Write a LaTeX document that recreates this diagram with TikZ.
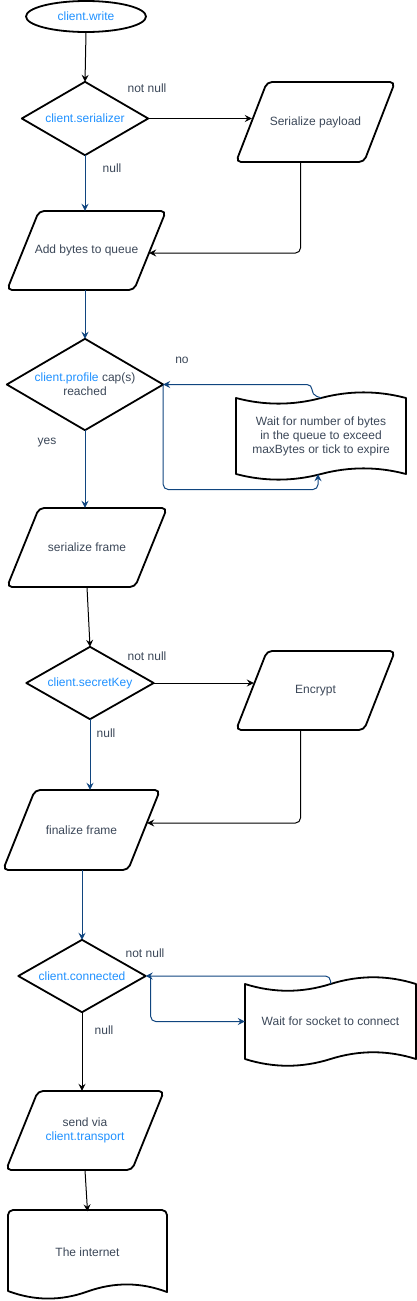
\documentclass[tikz,border=0pt]{standalone}
\usepackage{fontspec}
\setmainfont{Liberation Sans}
\usetikzlibrary{shapes.geometric,arrows.meta,calc}
\definecolor{txt}{HTML}{3B4758}
\definecolor{hl}{HTML}{1E90FF}
\definecolor{bl}{HTML}{10457F}
\newcommand\myfs{\fontsize{12}{14}\selectfont}
\newcommand\hlt[1]{\textcolor{hl}{#1}}
\newcommand\mypara[5]{\draw[shp] ({#1+#5},#2) -- (#3,#2) -- ({#3-#5},#4) -- (#1,#4) -- cycle;}
\newcommand\mydia[1]{\draw[shp,sharp corners] (#1.north) -- (#1.east) -- (#1.south) -- (#1.west) -- cycle;}
\newcommand\mytape[5]{%
\draw[shp,sharp corners] (#1,#2) .. controls ({#1+(#3-#1)/6},{#2+1.5*#5}) and ({#1+(#3-#1)/3},{#2+1.5*#5}) .. ({(#1+#3)/2},#2)
 .. controls ({#1+2*(#3-#1)/3},{#2-1.5*#5}) and ({#1+5*(#3-#1)/6},{#2-1.5*#5}) .. (#3,#2)
 -- (#3,#4) .. controls ({#1+5*(#3-#1)/6},{#4-1.5*#5}) and ({#1+2*(#3-#1)/3},{#4-1.5*#5}) .. ({(#1+#3)/2},#4)
 .. controls ({#1+(#3-#1)/3},{#4+1.5*#5}) and ({#1+(#3-#1)/6},{#4+1.5*#5}) .. (#1,#4) -- cycle;}
\tikzset{
 lbl/.style={text=txt,font=\myfs,inner sep=0},
 bx/.style 2 args={minimum width=#1,minimum height=#2,inner sep=0,align=center,text=txt,font=\myfs},
 shp/.style={draw,line width=1.8,rounded corners=5,line join=round},
 conn/.style={line width=1,-{Stealth[length=7pt,width=7pt,inset=2.5pt]}},
 blk/.style={conn,black},
 blu/.style={conn,bl},
}
\begin{document}
\begin{tikzpicture}[x=1pt,y=-1pt]
\useasboundingbox (0,0) rectangle (417,1301);
% shapes
\node[ellipse,draw,line width=1.8,minimum width=120,minimum height=31,inner sep=0,font=\myfs,text=hl] (cw) at (86,16.5) {client.write};
\node[bx={126}{73},text=hl] (cs) at (85,118.5) {client.serializer};
\mydia{cs}
\mypara{236}{82}{395}{162}{31}
\node[bx={159}{80}] (sp) at (315.5,122) {Serialize payload};
\mypara{7}{211}{166}{290}{32}
\node[bx={159}{79}] (ab) at (86.5,250.5) {Add bytes to queue};
\node[bx={156}{91}] (pr) at (85,384.5) {\hlt{client.profile} cap(s)\\reached};
\mydia{pr}
\mytape{236}{398}{406}{474}{5}
\node[bx={170}{76}] (wb) at (321,436) {Wait for number of bytes\\in the queue to exceed\\maxBytes or tick to expire};
\mypara{7}{508}{167}{587}{32}
\node[bx={160}{79}] (sf) at (87,547.5) {serialize frame};
\node[bx={127}{72},text=hl] (sk) at (90,683) {client.secretKey};
\mydia{sk}
\mypara{236}{651}{395}{730}{31}
\node[bx={159}{79}] (en) at (315.5,690.5) {Encrypt};
\mypara{3}{790}{160}{870}{32}
\node[bx={157}{80}] (ff) at (81.5,830) {finalize frame};
\node[bx={127}{72},text=hl] (cc) at (82,976) {client.connected};
\mydia{cc}
\mytape{245}{984}{416}{1059}{6}
\node[bx={171}{75}] (ws) at (330.5,1021.5) {Wait for socket to connect};
\mypara{6}{1091}{164}{1170}{32}
\node[bx={158}{79}] (sv) at (85,1130.5) {send via\\\hlt{client.transport}};
\draw[shp,sharp corners] (8,1250) [rounded corners=5] -- (8,1210) -- (167,1210) [sharp corners] -- (167,1292)
 .. controls (140.5,1282) and (114,1282) .. (87.5,1291.5)
 .. controls (61,1301) and (34.5,1301) .. (8,1291) -- cycle;
\node[bx={159}{81}] (in) at (87.5,1252) {The internet};
% labels
\node[lbl] (l1) at (147,88) {not null};
\node[lbl] (l2) at (112,168) {null};
\node[lbl] (l3) at (182,360) {no};
\node[lbl] (l4) at (47,443) {yes};
\node[lbl] (l5) at (147,656) {not null};
\node[lbl] (l6) at (106,733) {null};
\node[lbl] (l7) at (145,953) {not null};
\node[lbl] (l8) at (104,1030) {null};
% connectors
\draw[blk] (cw.south) -- (cs.north);
\draw[blk] (cs.east) -- ([xshift=16]cs.east -| sp.west);
\draw[blu] (cs.south) -- (cs.south |- ab.north);
\draw[blk,rounded corners=5] ([xshift=-15]sp.south) |- ([xshift=-17,yshift=-2.5]ab.east);
\draw[blu] (pr.north |- ab.south) -- (pr.north);
\draw[blu] (pr.south) -- (pr.south |- sf.north);
\draw[blu,rounded corners=5] (wb.north) -- ++(-9,-3) |- (pr.east);
\draw[blu,rounded corners=5] (pr.east) -- ++(0,105) -| ([xshift=-3]wb.south);
\draw[blk] (sf.south) -- (sk.north);
\draw[blk] (sk.east) -- ([xshift=18]sk.east -| en.west);
\draw[blu] (sk.south) -- (sk.south |- ff.north);
\draw[blk,rounded corners=5] ([xshift=-15]en.south) |- ([xshift=-13,yshift=7]ff.east);
\draw[blu] (ff.south -| cc.north) -- (cc.north);
\draw[blu,rounded corners=5] (ws.north) |- (cc.east);
\draw[blu,rounded corners=5] ([xshift=5]cc.east) |- (ws.west);
\draw[blk] (cc.south) -- (cc.south |- sv.north);
\draw[blk] (sv.south) -- (in.north);
\end{tikzpicture}
\end{document}
